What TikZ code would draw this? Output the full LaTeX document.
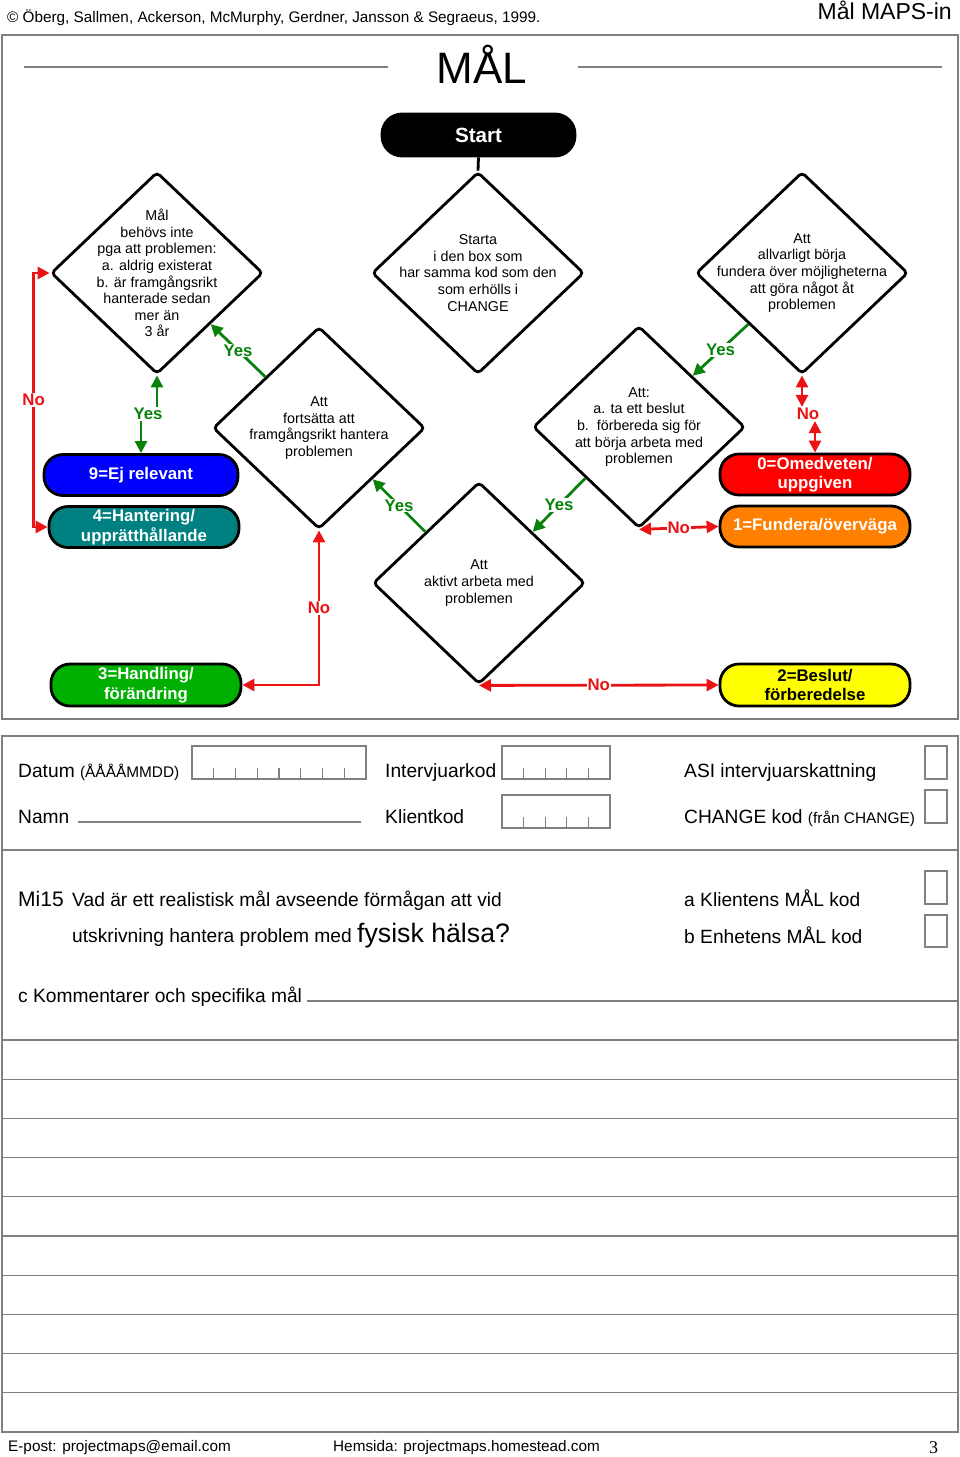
\documentclass[tikz,border=0pt]{standalone}
\usepackage{fontspec}
\setmainfont{Liberation Sans}
\newfontfamily\pagenumfont{Liberation Serif}
\usepackage{tikz}
\usetikzlibrary{
  arrows.meta,
  calc,
  shapes.geometric
}
\definecolor{flowred}{RGB}{235,20,20}
\definecolor{flowgreen}{RGB}{10,130,10}
\definecolor{pillblue}{RGB}{0,0,255}
\definecolor{pillteal}{RGB}{0,128,128}
\definecolor{pillred}{RGB}{255,0,0}
\definecolor{pillorange}{RGB}{255,128,0}
\definecolor{pillgreen}{RGB}{0,176,0}
\definecolor{pillyellow}{RGB}{255,255,0}
\definecolor{framegray}{RGB}{128,128,128}
\newcommand{\setfs}[2]{\fontsize{#1}{#2}\selectfont}

\begin{document}
\begin{tikzpicture}[x=1pt, y=-1pt,
  dia/.style={diamond, draw, line width=2.8pt, rounded corners=4pt,
              minimum width=212pt, minimum height=202pt, inner sep=0pt},
  diatext/.style={align=center, inner sep=0pt, font=\setfs{14.3}{16.6}},
  pill/.style={draw, line width=2.8pt, rounded corners=19pt, minimum width=190pt,
               minimum height=41pt, inner sep=0pt, align=center, text=white,
               font=\bfseries\setfs{16.8}{19.5}},
  yeslbl/.style={text=flowgreen, fill=white, inner sep=1pt, font=\bfseries\setfs{16.8}{18}},
  nolbl/.style={text=flowred, fill=white, inner sep=1pt, font=\bfseries\setfs{16.8}{18}},
  yesarr/.style={draw=flowgreen, line width=2.8pt, -{Triangle[length=12pt, width=12pt]}},
  noarr/.style={draw=flowred, line width=2.8pt,
                {Triangle[length=12pt, width=12pt]}-{Triangle[length=12pt, width=12pt]}},
  frame/.style={draw=framegray, line width=1.3pt},
  boxline/.style={draw=framegray, line width=1.1pt},
  formtext/.style={anchor=base west, inner sep=0pt, font=\setfs{19.2}{23}}
]
  \useasboundingbox (0,0) rectangle (960,1457);

  % header
  \node[anchor=base west, inner sep=0pt, font=\setfs{15.3}{18}] (credit) at (7,22)
    {© Öberg, Sallmen, Ackerson, McMurphy, Gerdner, Jansson \& Segraeus, 1999.};
  \node[anchor=base east, inner sep=0pt, font=\setfs{23}{26}] (maps) at (952,19) {Mål MAPS-in};

  % flowchart frame
  \draw[frame] (2,35) rectangle (958,719);
  \draw[boxline] (24,67) -- (388,67);
  \draw[boxline] (578,67) -- (942,67);
  \node[font=\setfs{44}{48}, inner sep=0pt] (title) at (482,64) {MÅL};

  % start
  \node[draw, fill=black, line width=2.8pt, rounded corners=20pt, minimum width=193pt,
        minimum height=42pt, text=white, font=\bfseries\setfs{20.6}{24}] (start) at (478.5,135) {Start};

  % diamonds
  \node[dia] (d1) at (157,273) {};
  \node[diatext] (t1) at (d1) {Mål\\behövs inte\\pga att problemen:\\a. aldrig existerat\\b. är framgångsrikt\\hanterade sedan\\mer än\\3 år};
  \node[dia] (d2) at (478,273) {};
  \node[diatext] (t2) at (d2) {Starta\\i den box som\\har samma kod som den\\som erhölls i\\CHANGE};
  \node[dia] (d3) at (802,273) {};
  \node[diatext] (t3) at (d3) {Att\\allvarligt börja\\fundera över möjligheterna\\att göra något åt\\problemen};
  \node[dia] (d4) at (319,428) {};
  \node[diatext] (t4) at (d4) {Att\\fortsätta att\\framgångsrikt hantera\\problemen};
  \node[dia] (d5) at (639,427) {};
  \node[diatext] (t5) at (d5) {Att:\\a. ta ett beslut\\b.\ \ förbereda sig för\\att börja arbeta med\\problemen};
  \node[dia] (d6) at (479,583) {};
  \node[diatext] (t6) at (d6) {Att\\aktivt arbeta med\\problemen};

  % stages
  \node[pill, fill=pillblue, minimum width=194pt] (p9) at (141,475) {9=Ej relevant};
  \node[pill, fill=pillteal] (p4) at (144,527) {4=Hantering/\\upprätthållande};
  \node[pill, fill=pillred] (p0) at (815,474.5) {0=Omedveten/\\uppgiven};
  \node[pill, fill=pillorange] (p1) at (815,526.5) {1=Fundera/överväga};
  \node[pill, fill=pillgreen, minimum height=42pt] (p3) at (146,685) {3=Handling/\\förändring};
  \node[pill, fill=pillyellow, text=black, minimum height=42pt] (p2) at (815,685) {2=Beslut/\\förberedelse};

  % connectors
  \draw[line width=2.8pt] (start.south) -- (d2.north);
  \draw[noarr] (d1.west) -- ++(-16,0) |- (p4.west) node[nolbl, pos=0.25] (n4) {No};
  \node[yeslbl] (y9) at (148,414) {Yes};
  \draw[yesarr] (y9.north -| d1.south) -- (d1.south);
  \draw[yesarr] (y9.south -| p9.north) -- (p9.north);
  \draw[yesarr] ($(d4.west)!0.5!(d4.north)$) -- ($(d1.south)!0.5!(d1.east)$)
    node[yeslbl, midway] (y1) {Yes};
  \draw[yesarr] ($(d3.south)!0.5!(d3.west)$) -- ($(d5.north)!0.5!(d5.east)$)
    node[yeslbl, midway] (y5) {Yes};
  \draw[yesarr] ($(d6.west)!0.5!(d6.north)$) -- ($(d4.south)!0.5!(d4.east)$)
    node[yeslbl, midway] (y4) {Yes};
  \draw[yesarr] ($(d5.west)!0.5!(d5.south)$) -- ($(d6.north)!0.5!(d6.east)$)
    node[yeslbl, midway] (y6) {Yes};
  \node[nolbl] (n0) at (808,414) {No};
  \draw[noarr] (n0.north -| d3.south) -- (d3.south);
  \draw[noarr] (n0.south -| p0.north) -- (p0.north);
  \draw[noarr] (d5.south) -- (p1.west) node[nolbl, midway] (n1) {No};
  \draw[noarr] (d6.south) -- (p2.west) node[nolbl, midway] (n2) {No};
  \draw[noarr] (d4.south) |- (p3.east) node[nolbl, pos=0.25] (n3) {No};

  % form
  \draw[frame] (2,736) rectangle (958,1432);
  \draw[frame] (2,850) -- (958,850);
  \node[formtext] (datum) at (18,777) {Datum {\setfs{15.4}{18}(ÅÅÅÅMMDD)}};
  \draw[boxline] (192,746) rectangle (366,779);
  \foreach \i in {1,...,7} \draw[boxline] (192+21.75*\i,768) -- ++(0,11);
  \node[formtext] (ikod) at (385,777) {Intervjuarkod};
  \draw[boxline] (502,746) rectangle (610,779);
  \foreach \i in {1,...,4} \draw[boxline] (502+21.6*\i,768) -- ++(0,11);
  \node[formtext] (asi) at (684,777) {ASI intervjuarskattning};
  \draw[boxline] (925,746) rectangle (947,779);

  \node[formtext] (namn) at (18,823) {Namn};
  \draw[boxline] (78,822) -- (361,822);
  \node[formtext] (kkod) at (385,823) {Klientkod};
  \draw[boxline] (502,795) rectangle (610,828);
  \foreach \i in {1,...,4} \draw[boxline] (502+21.6*\i,817) -- ++(0,11);
  \node[formtext] (ckod) at (684,823) {CHANGE kod {\setfs{15.4}{18}(från CHANGE)}};
  \draw[boxline] (925,790) rectangle (947,823);

  \node[formtext, font=\setfs{21}{24}] (mi) at (18,906) {Mi15};
  \node[formtext] (q1) at (72,906) {Vad är ett realistisk mål avseende förmågan att vid};
  \node[formtext] (q2) at (72,942) {utskrivning hantera problem med {\setfs{26.7}{30}fysisk hälsa?}};
  \node[formtext] (akod) at (684,906) {a Klientens MÅL kod};
  \draw[boxline] (925,871) rectangle (947,904);
  \node[formtext] (bkod) at (684,943) {b Enhetens MÅL kod};
  \draw[boxline] (925,915) rectangle (947,947);

  \node[formtext] (komm) at (18,1002) {c Kommentarer och specifika mål};
  \draw[boxline] (307,1001) -- (958,1001);
  \foreach \k in {0,...,9} \draw[frame] (2,1040+39.2*\k) -- (958,1040+39.2*\k);

  % footer
  \node[anchor=base west, inner sep=0pt, font=\setfs{15.3}{18}] (mail) at (8,1451) {E-post: projectmaps@email.com};
  \node[anchor=base west, inner sep=0pt, font=\setfs{15.3}{18}] (web) at (333,1451) {Hemsida: projectmaps.homestead.com};
  \node[anchor=base west, inner sep=0pt, font=\pagenumfont\setfs{18}{20}] (pnum) at (929,1453) {3};
\end{tikzpicture}
\end{document}
